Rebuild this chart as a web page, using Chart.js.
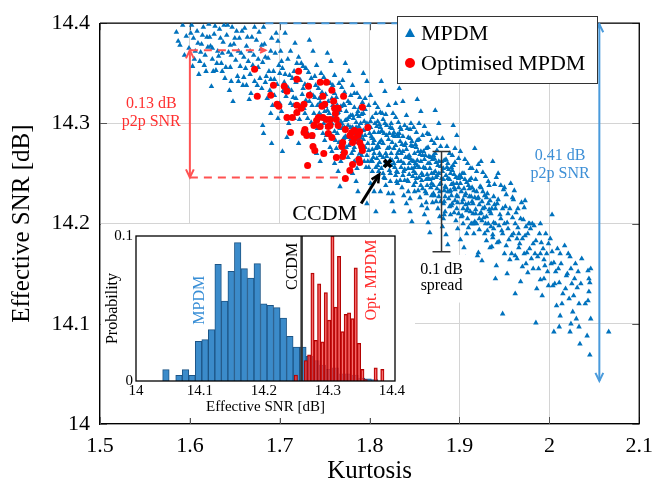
<!DOCTYPE html>
<html>
<head>
<meta charset="utf-8">
<script src="https://cdn.jsdelivr.net/npm/chart.js@4"></script>
<style>
html,body{margin:0;padding:0;background:#fff;}
#wrap{position:relative;width:662px;height:490px;}
#main{position:absolute;left:0;top:0;}
#inset{position:absolute;left:101px;top:224px;background:#fff;}
</style>
</head>
<body>
<div id="wrap">
<canvas id="main" width="662" height="490"></canvas>
<canvas id="inset" width="314" height="194"></canvas>
</div>
<script>
const SERIF = "'Liberation Serif','Times New Roman',serif";

// ---- main axes ticks ----
const xTickValues = [1.5, 1.6, 1.7, 1.8, 1.9, 2.0, 2.1];
const xTickLabels = ['1.5', '1.6', '1.7', '1.8', '1.9', '2', '2.1'];
const yTickValues = [14, 14.1, 14.2, 14.3, 14.4];
const yTickLabels = ['14', '14.1', '14.2', '14.3', '14.4'];

// ---- MPDM scatter: [kurtosis, effective SNR] ----
const mpdmPoints = [
[1.585,14.391],[1.596,14.387],[1.599,14.375],[1.592,14.398],[1.589,14.378],
[1.602,14.398],[1.604,14.385],[1.606,14.372],[1.608,14.392],[1.611,14.362],[1.613,14.379],[1.615,14.396],[1.617,14.368],[1.619,14.386],[1.603,14.357],[1.61,14.349],[1.618,14.352],
[1.621,14.399],[1.623,14.377],[1.625,14.364],[1.627,14.389],[1.629,14.353],[1.631,14.372],[1.633,14.394],[1.635,14.36],[1.637,14.381],[1.639,14.345],[1.624,14.337],[1.632,14.367],[1.638,14.398],
[1.641,14.388],[1.643,14.371],[1.645,14.356],[1.647,14.396],[1.649,14.379],[1.651,14.363],[1.653,14.347],[1.655,14.385],[1.657,14.37],[1.659,14.338],[1.644,14.333],[1.652,14.392],[1.656,14.357],[1.648,14.322],
[1.661,14.395],[1.663,14.377],[1.665,14.362],[1.667,14.349],[1.669,14.386],[1.671,14.368],[1.673,14.354],[1.675,14.338],[1.677,14.391],[1.679,14.374],[1.662,14.355],[1.668,14.33],[1.674,14.383],[1.678,14.345],[1.666,14.324],
[1.681,14.361],[1.683,14.379],[1.685,14.347],[1.687,14.365],[1.689,14.333],[1.691,14.385],[1.693,14.352],[1.695,14.37],[1.697,14.339],[1.699,14.358],[1.682,14.396],[1.686,14.325],[1.692,14.318],[1.696,14.39],[1.684,14.341],[1.694,14.328],[1.681,14.298],[1.682,14.29],[1.691,14.28],[1.698,14.305],
[1.701,14.372],[1.703,14.355],[1.705,14.341],[1.707,14.327],[1.709,14.364],[1.711,14.348],[1.713,14.333],[1.715,14.318],[1.717,14.38],[1.719,14.36],[1.702,14.312],[1.706,14.39],[1.71,14.3],[1.714,14.345],[1.718,14.325],[1.704,14.333],[1.712,14.372],[1.716,14.305],[1.708,14.286],[1.703,14.272],
[1.721,14.366],[1.723,14.343],[1.725,14.329],[1.727,14.315],[1.729,14.355],[1.731,14.338],[1.733,14.322],[1.735,14.301],[1.737,14.372],[1.739,14.347],[1.722,14.304],[1.726,14.357],[1.73,14.292],[1.734,14.33],[1.738,14.31],[1.724,14.318],[1.732,14.351],[1.736,14.286],[1.728,14.339],[1.721,14.28],[1.739,14.326],[1.733,14.383],
[1.741,14.358],[1.743,14.335],[1.745,14.321],[1.747,14.305],[1.749,14.346],[1.751,14.329],[1.753,14.313],[1.755,14.297],[1.757,14.362],[1.759,14.338],[1.742,14.295],[1.746,14.35],[1.75,14.283],[1.754,14.322],[1.758,14.3],[1.744,14.31],[1.752,14.341],[1.756,14.276],[1.748,14.327],[1.741,14.27],[1.759,14.318],[1.753,14.37],[1.745,14.262],[1.757,14.289],
[1.742,14.318],[1.746,14.308],[1.749,14.3],[1.752,14.288],[1.755,14.31],[1.758,14.325],[1.744,14.325],[1.751,14.317],
[1.761,14.348],[1.763,14.326],[1.765,14.311],[1.767,14.295],[1.769,14.336],[1.771,14.319],[1.773,14.303],[1.775,14.286],[1.777,14.352],[1.779,14.328],[1.762,14.283],[1.766,14.34],[1.77,14.272],[1.774,14.312],[1.778,14.29],[1.764,14.3],[1.772,14.331],[1.776,14.266],[1.768,14.317],[1.761,14.26],[1.779,14.308],[1.773,14.36],[1.765,14.252],[1.777,14.278],[1.77,14.296],[1.767,14.237],
[1.762,14.305],[1.764,14.29],[1.767,14.313],[1.769,14.281],[1.772,14.296],[1.775,14.304],[1.778,14.32],[1.771,14.285],[1.763,14.275],[1.776,14.298],
[1.781,14.338],[1.783,14.316],[1.785,14.301],[1.787,14.285],[1.789,14.326],[1.791,14.309],[1.793,14.293],[1.795,14.276],[1.797,14.342],[1.799,14.318],[1.782,14.273],[1.786,14.33],[1.79,14.262],[1.794,14.302],[1.798,14.28],[1.784,14.29],[1.792,14.321],[1.796,14.256],[1.788,14.307],[1.781,14.25],[1.799,14.298],[1.793,14.35],[1.785,14.242],[1.797,14.268],[1.79,14.286],[1.787,14.232],[1.795,14.314],[1.783,14.262],[1.797,14.22],
[1.781,14.296],[1.784,14.281],[1.786,14.309],[1.789,14.27],[1.791,14.288],[1.794,14.262],[1.796,14.294],[1.799,14.273],[1.782,14.305],[1.788,14.297],[1.792,14.278],
[1.801,14.328],[1.803,14.306],[1.805,14.291],[1.807,14.275],[1.809,14.316],[1.811,14.299],[1.813,14.283],[1.815,14.266],[1.817,14.332],[1.818,14.309],[1.802,14.263],[1.806,14.32],[1.81,14.252],[1.814,14.292],[1.818,14.27],[1.804,14.28],[1.812,14.311],[1.816,14.246],[1.808,14.297],[1.801,14.24],[1.819,14.288],[1.813,14.342],[1.805,14.232],[1.817,14.258],[1.81,14.276],[1.807,14.212],[1.815,14.304],[1.803,14.252],[1.818,14.238],[1.811,14.261],
[1.802,14.287],[1.804,14.266],[1.806,14.3],[1.809,14.258],[1.811,14.281],[1.813,14.255],[1.816,14.29],[1.818,14.262],[1.803,14.274],[1.808,14.265],[1.812,14.296],[1.82,14.275],
[1.821,14.318],[1.823,14.296],[1.825,14.281],[1.827,14.291],[1.829,14.306],[1.831,14.289],[1.833,14.273],[1.835,14.256],[1.837,14.322],[1.839,14.298],[1.822,14.253],[1.826,14.31],[1.83,14.242],[1.834,14.282],[1.838,14.26],[1.824,14.27],[1.832,14.301],[1.836,14.236],[1.828,14.287],[1.821,14.23],[1.839,14.278],[1.833,14.335],[1.825,14.222],[1.837,14.248],[1.83,14.266],[1.827,14.212],[1.835,14.294],[1.823,14.242],[1.838,14.228],[1.831,14.251],
[1.822,14.276],[1.824,14.258],[1.826,14.288],[1.829,14.248],[1.831,14.27],[1.834,14.243],[1.836,14.279],[1.838,14.252],[1.823,14.264],[1.828,14.256],[1.832,14.287],[1.84,14.266],
[1.841,14.308],[1.843,14.286],[1.845,14.294],[1.847,14.255],[1.849,14.296],[1.851,14.279],[1.853,14.263],[1.855,14.246],[1.857,14.312],[1.859,14.288],[1.842,14.243],[1.846,14.3],[1.85,14.232],[1.854,14.272],[1.858,14.25],[1.844,14.26],[1.852,14.291],[1.856,14.226],[1.848,14.277],[1.841,14.22],[1.859,14.268],[1.853,14.324],[1.845,14.212],[1.857,14.238],[1.85,14.256],[1.847,14.202],[1.855,14.284],[1.843,14.232],[1.858,14.218],[1.851,14.241],
[1.842,14.266],[1.844,14.249],[1.846,14.278],[1.849,14.238],[1.851,14.26],[1.854,14.233],[1.856,14.269],[1.858,14.243],[1.843,14.255],[1.848,14.247],[1.852,14.276],[1.86,14.256],
[1.861,14.297],[1.863,14.275],[1.865,14.26],[1.867,14.244],[1.869,14.283],[1.871,14.268],[1.873,14.252],[1.875,14.235],[1.877,14.3],[1.879,14.277],[1.862,14.232],[1.866,14.289],[1.87,14.221],[1.874,14.261],[1.878,14.239],[1.864,14.249],[1.872,14.28],[1.876,14.215],[1.868,14.266],[1.861,14.209],[1.879,14.257],[1.873,14.313],[1.865,14.201],[1.877,14.227],[1.87,14.245],[1.867,14.191],[1.875,14.273],[1.863,14.221],[1.878,14.207],[1.871,14.23],
[1.862,14.255],[1.864,14.238],[1.866,14.267],[1.869,14.228],[1.871,14.25],[1.874,14.222],[1.876,14.258],[1.878,14.232],[1.863,14.244],[1.868,14.236],[1.872,14.265],[1.88,14.245],
[1.881,14.285],[1.883,14.263],[1.885,14.248],[1.887,14.232],[1.889,14.27],[1.891,14.256],[1.893,14.24],[1.895,14.223],[1.897,14.288],[1.899,14.265],[1.882,14.22],[1.886,14.277],[1.89,14.209],[1.894,14.249],[1.898,14.227],[1.884,14.237],[1.892,14.268],[1.896,14.203],[1.888,14.254],[1.881,14.197],[1.899,14.245],[1.893,14.298],[1.885,14.189],[1.897,14.215],[1.89,14.233],[1.887,14.179],[1.895,14.261],[1.883,14.209],[1.898,14.195],[1.891,14.218],
[1.882,14.244],[1.884,14.227],[1.886,14.256],[1.889,14.217],[1.891,14.239],[1.894,14.211],[1.896,14.246],[1.898,14.221],[1.883,14.233],[1.888,14.225],[1.892,14.253],
[1.901,14.272],[1.903,14.25],[1.905,14.235],[1.907,14.219],[1.909,14.26],[1.911,14.243],[1.913,14.227],[1.915,14.21],[1.917,14.275],[1.919,14.252],[1.902,14.207],[1.906,14.264],[1.91,14.196],[1.914,14.236],[1.918,14.214],[1.904,14.224],[1.912,14.255],[1.916,14.19],[1.908,14.241],[1.901,14.184],[1.919,14.232],[1.905,14.176],[1.917,14.202],[1.91,14.22],[1.907,14.166],[1.913,14.2],[1.914,14.255],
[1.902,14.232],[1.904,14.215],[1.906,14.244],[1.909,14.205],[1.911,14.227],[1.914,14.2],[1.916,14.233],[1.918,14.21],[1.903,14.221],[1.908,14.213],
[1.921,14.259],[1.923,14.237],[1.925,14.222],[1.927,14.206],[1.929,14.247],[1.931,14.23],[1.933,14.214],[1.935,14.197],[1.937,14.262],[1.939,14.239],[1.922,14.194],[1.926,14.251],[1.93,14.183],[1.934,14.223],[1.938,14.201],[1.924,14.211],[1.932,14.242],[1.936,14.177],[1.928,14.228],[1.921,14.171],[1.939,14.219],[1.925,14.163],[1.937,14.189],[1.93,14.207],[1.924,14.262],[1.933,14.238],
[1.922,14.219],[1.925,14.203],[1.928,14.216],[1.931,14.193],[1.934,14.212],[1.937,14.186],
[1.941,14.246],[1.943,14.224],[1.945,14.209],[1.947,14.193],[1.949,14.234],[1.951,14.217],[1.953,14.201],[1.955,14.184],[1.957,14.24],[1.959,14.226],[1.942,14.181],[1.946,14.238],[1.95,14.17],[1.954,14.21],[1.958,14.188],[1.944,14.198],[1.952,14.229],[1.956,14.164],[1.948,14.215],[1.941,14.158],[1.959,14.206],[1.948,14.11],[1.953,14.15],[1.95,14.236],
[1.961,14.233],[1.963,14.211],[1.965,14.196],[1.967,14.18],[1.969,14.221],[1.971,14.204],[1.973,14.188],[1.975,14.171],[1.977,14.2],[1.979,14.195],[1.962,14.168],[1.966,14.19],[1.97,14.157],[1.974,14.197],[1.978,14.175],[1.964,14.185],[1.972,14.216],[1.976,14.151],[1.968,14.142],[1.973,14.223],[1.96,14.224],
[1.981,14.2],[1.983,14.198],[1.985,14.183],[1.987,14.167],[1.989,14.19],[1.991,14.181],[1.993,14.175],[1.995,14.158],[1.997,14.17],[1.999,14.18],[1.982,14.155],[1.986,14.135],[1.99,14.144],[1.994,14.164],[1.998,14.152],[1.985,14.101],[1.992,14.128],[2.003,14.209],
[2.001,14.185],[2.003,14.172],[2.005,14.161],[2.007,14.152],[2.009,14.175],[2.011,14.141],[2.013,14.16],[2.015,14.13],[2.017,14.178],[2.019,14.148],[2.004,14.138],[2.005,14.092],[2.011,14.097],[2.008,14.118],
[2.021,14.17],[2.023,14.167],[2.024,14.155],[2.025,14.14],[2.027,14.128],[2.029,14.16],[2.032,14.152],[2.033,14.12],[2.034,14.08],[2.023,14.092],[2.026,14.112],[2.031,14.136],
[2.043,14.153],[2.043,14.123],[2.045,14.141],[2.045,14.069],[2.046,14.105],[2.044,14.132],[2.066,14.092],[2.042,14.088],
[1.587,14.382],[1.594,14.368],[1.601,14.39],[1.605,14.364],[1.609,14.38],[1.612,14.371],[1.614,14.388],[1.616,14.358],[1.62,14.376],[1.622,14.386],[1.626,14.352],[1.628,14.397],[1.63,14.36],[1.634,14.385],[1.636,14.37],[1.64,14.356],[1.642,14.398],[1.646,14.368],[1.65,14.385],[1.654,14.372],[1.658,14.392],[1.66,14.346],[1.664,14.386],[1.667,14.372],[1.67,14.358],[1.672,14.396],[1.676,14.364],[1.68,14.378],[1.684,14.366],[1.688,14.352],[1.69,14.372],[1.694,14.344],[1.698,14.382],[1.7,14.35],[1.68,14.335],[1.672,14.342],[1.663,14.338],[1.654,14.342],[1.646,14.342],[1.636,14.352],[1.69,14.31],[1.7,14.32],
[1.702,14.362],[1.706,14.349],[1.709,14.336],[1.712,14.32],[1.716,14.352],[1.718,14.341],[1.72,14.31],[1.724,14.36],[1.726,14.335],[1.729,14.323],[1.731,14.305],[1.735,14.345],[1.737,14.328],[1.74,14.338],[1.743,14.297],[1.747,14.331],[1.75,14.312],[1.753,14.296],[1.756,14.34],[1.759,14.306],[1.761,14.33],[1.764,14.318],[1.768,14.302],[1.77,14.343],[1.773,14.287],[1.776,14.322],[1.779,14.296],[1.78,14.27],[1.783,14.33],[1.785,14.29],[1.787,14.312],[1.79,14.3],[1.793,14.284],[1.795,14.325],[1.798,14.262],[1.8,14.29],[1.768,14.262],[1.758,14.272],[1.786,14.255],
[1.801,14.302],[1.803,14.285],[1.805,14.27],[1.807,14.31],[1.809,14.278],[1.81,14.291],[1.812,14.268],[1.814,14.31],[1.815,14.28],[1.817,14.245],[1.819,14.298],[1.82,14.26],[1.822,14.29],[1.824,14.3],[1.825,14.263],[1.827,14.275],[1.829,14.32],[1.83,14.252],[1.832,14.262],[1.834,14.296],[1.835,14.27],[1.837,14.287],[1.839,14.243],[1.84,14.28],[1.842,14.295],[1.844,14.268],[1.845,14.285],[1.847,14.263],[1.849,14.252],[1.85,14.27],[1.852,14.245],[1.853,14.258],[1.855,14.3],[1.857,14.262],[1.859,14.235],[1.86,14.272],[1.862,14.268],[1.864,14.29],[1.865,14.245],[1.867,14.255],[1.869,14.24],[1.87,14.264],[1.872,14.228],[1.874,14.246],[1.875,14.285],[1.877,14.25],[1.879,14.222],[1.88,14.262],[1.882,14.255],[1.884,14.212],[1.885,14.264],[1.887,14.245],[1.889,14.232],[1.89,14.25],[1.892,14.22],[1.894,14.236],[1.895,14.275],[1.897,14.24],[1.899,14.21],[1.9,14.248],[1.812,14.232],[1.826,14.23],[1.845,14.225],[1.864,14.215],[1.882,14.205],
[1.902,14.246],[1.904,14.2],[1.906,14.228],[1.908,14.19],[1.91,14.238],[1.912,14.212],[1.914,14.222],[1.916,14.2],[1.918,14.244],[1.92,14.225],[1.922,14.205],[1.924,14.236],[1.926,14.215],[1.928,14.19],[1.93,14.226],[1.932,14.2],[1.934,14.176],[1.936,14.215],[1.938,14.227],[1.94,14.2],[1.942,14.22],[1.944,14.182],[1.946,14.205],[1.948,14.19],[1.95,14.2],[1.952,14.178],[1.954,14.195],[1.956,14.215],[1.958,14.17],[1.96,14.19],[1.962,14.2],[1.964,14.165],[1.966,14.176],[1.968,14.205],[1.97,14.185],[1.972,14.17],[1.974,14.16],[1.976,14.19],[1.978,14.2],[1.98,14.165],[1.982,14.18],[1.984,14.17],[1.988,14.155],[1.99,14.17],[1.994,14.145],[1.996,14.19],[1.999,14.138],[1.92,14.168],[1.94,14.145],[1.962,14.13],[1.943,14.25],[1.965,14.215],[1.99,14.2],
[2.002,14.16],[2.006,14.14],[2.01,14.155],[2.012,14.17],[2.014,14.12],[2.018,14.135],[2.02,14.15],[2.022,14.125],[2.028,14.145],[2.03,14.105],[2.035,14.14],[2.036,14.165],[2.04,14.12],[2.044,14.145],[2.046,14.155],[2.012,14.108],[2.024,14.1],[2.033,14.097],
[1.761,14.292],[1.764,14.31],[1.766,14.281],[1.769,14.3],[1.772,14.318],[1.774,14.276],[1.777,14.306],[1.779,14.284],
[1.781,14.308],[1.783,14.276],[1.785,14.296],[1.787,14.266],[1.789,14.316],[1.791,14.268],[1.793,14.31],[1.795,14.288],[1.797,14.3],[1.799,14.256],
[1.801,14.296],[1.803,14.262],[1.805,14.283],[1.807,14.256],[1.809,14.302],[1.811,14.27],[1.813,14.292],[1.815,14.25],[1.817,14.3],[1.819,14.267],
[1.821,14.284],[1.823,14.25],[1.825,14.295],[1.827,14.26],[1.829,14.278],[1.831,14.24],[1.833,14.29],[1.835,14.262],[1.837,14.272],[1.839,14.254],
[1.841,14.274],[1.843,14.242],[1.845,14.265],[1.847,14.282],[1.849,14.262],[1.851,14.25],[1.853,14.283],[1.855,14.256],[1.857,14.272],[1.859,14.248],
[1.861,14.264],[1.863,14.23],[1.865,14.276],[1.867,14.26],[1.869,14.25],[1.871,14.238],[1.873,14.27],[1.875,14.248],[1.877,14.262],[1.879,14.24],
[1.881,14.252],[1.883,14.222],[1.885,14.236],[1.887,14.26],[1.889,14.244],[1.891,14.228],[1.893,14.258],[1.895,14.234],[1.897,14.228],[1.899,14.236],
[1.901,14.24],[1.903,14.208],[1.905,14.25],[1.907,14.23],[1.909,14.215],[1.911,14.235],[1.913,14.245],[1.915,14.22],[1.917,14.226],[1.919,14.2],
[1.921,14.226],[1.923,14.21],[1.926,14.232],[1.929,14.2],[1.932,14.22],[1.935,14.21],[1.938,14.195],[1.94,14.215],
[1.625,14.375],[1.645,14.378],[1.66,14.366],[1.676,14.356],[1.69,14.344],[1.705,14.332],[1.715,14.326],[1.728,14.31],[1.736,14.318],[1.748,14.29]
];

// ---- Optimised MPDM scatter ----
const optPoints = [
[1.672,14.354],[1.721,14.352],[1.719,14.344],[1.693,14.338],[1.705,14.337],[1.708,14.332],[1.675,14.327],[1.69,14.328],
[1.732,14.337],[1.745,14.341],[1.752,14.341],[1.758,14.333],[1.733,14.328],[1.748,14.327],[1.771,14.327],[1.76,14.322],
[1.697,14.319],[1.699,14.317],[1.719,14.318],[1.727,14.319],[1.747,14.317],[1.75,14.319],[1.761,14.315],[1.765,14.315],
[1.792,14.316],[1.724,14.315],[1.719,14.311],[1.762,14.31],[1.708,14.306],[1.714,14.306],[1.743,14.306],[1.741,14.303],
[1.748,14.306],[1.752,14.304],[1.756,14.304],[1.763,14.304],[1.712,14.291],[1.728,14.294],[1.727,14.291],[1.738,14.298],
[1.745,14.297],[1.754,14.297],[1.756,14.298],[1.765,14.298],[1.773,14.294],[1.78,14.291],[1.783,14.293],[1.789,14.292],
[1.778,14.288],[1.787,14.288],[1.73,14.288],[1.736,14.288],[1.754,14.29],[1.758,14.286],[1.783,14.285],[1.77,14.281],
[1.781,14.281],[1.789,14.281],[1.737,14.277],[1.739,14.273],[1.769,14.277],[1.791,14.277],[1.749,14.27],[1.763,14.266],
[1.77,14.267],[1.772,14.271],[1.788,14.264],[1.789,14.261],[1.781,14.259],[1.731,14.258],[1.778,14.253],[1.773,14.245],
[1.798,14.296],[1.792,14.273]
];

// ---- CCDM reference point ----
const ccdmPoint = [[1.820, 14.260]];

// ---- annotations (data coordinates) ----
const redSpanX = 1.6, redTopY = 14.373, redBottomY = 14.246, redTopEndX = 1.684, redBottomEndX = 1.767;
const blueSpanX = 2.0556, blueTopY = 14.4, blueBottomY = 14.043, blueDashStartX = 1.684;
const spreadX = 1.880, spreadTop = 14.272, spreadBottom = 14.172;
const ccdmArrowFrom = [1.7906, 14.220], ccdmArrowTo = [1.8106, 14.249];

// ---- inset histograms ----
const mpdmBins = [14.0468,14.0570,14.0672,14.0774,14.0876,14.0978,14.1080,14.1182,14.1284,14.1386,14.1488,14.1590,14.1692,14.1794,14.1896,14.1998,14.2100,14.2202,14.2304,14.2406,14.2508,14.2610,14.2712,14.2814,14.2916,14.3018,14.3120,14.3222,14.3324,14.3426,14.3528,14.3630,14.3732];
const mpdmProb = [0.0078,0,0.0039,0.0078,0.0039,0.0274,0.0285,0.0354,0.0805,0.0552,0.0756,0.0954,0.0775,0.071,0.081,0.0533,0.0522,0.0506,0.0434,0.0308,0.0234,0.0234,0.017,0.014,0.011,0.008,0.009,0.005,0.005,0.004,0.002,0.0015,0.001];
const optBins = [14.2500,14.2552,14.2604,14.2656,14.2708,14.2760,14.2812,14.2864,14.2916,14.2968,14.3020,14.3072,14.3124,14.3176,14.3228,14.3280,14.3332,14.3384,14.3436,14.3488,14.3540,14.3592,14.3644,14.3696,14.3748,14.3800,14.3852];
const optProb = [0.004,0,0,0.014,0.018,0.0745,0.028,0.067,0.027,0.061,0.042,0.1,0.051,0.086,0.034,0.046,0.047,0.043,0.078,0.026,0.008,0.001,0,0,0.009,0,0.008];
const insetXTickValues = [14, 14.1, 14.2, 14.3, 14.4];
const insetXTickLabels = ['14', '14.1', '14.2', '14.3', '14.4'];
const insetYTickValues = [0, 0.1];
const insetYTickLabels = ['0', '0.1'];
const ccdmSNR = 14.259;

const toXY = a => a.map(p => ({x: p[0], y: p[1]}));

function arrowHead(ctx, x, y, ang, size) {
  ctx.beginPath();
  ctx.moveTo(x - size * Math.cos(ang - 0.45), y - size * Math.sin(ang - 0.45));
  ctx.lineTo(x, y);
  ctx.lineTo(x - size * Math.cos(ang + 0.45), y - size * Math.sin(ang + 0.45));
  ctx.stroke();
}

const framePlugin = {
  id: 'frame',
  beforeDatasetsDraw(chart) {
    const {ctx, chartArea: a, scales: {x, y}} = chart;
    ctx.save();
    ctx.strokeStyle = '#555'; ctx.lineWidth = 1;
    xTickValues.forEach(v => {
      const p = Math.round(x.getPixelForValue(v)) + 0.5;
      ctx.beginPath(); ctx.moveTo(p, a.bottom); ctx.lineTo(p, a.bottom - 7); ctx.stroke();
      ctx.beginPath(); ctx.moveTo(p, a.top); ctx.lineTo(p, a.top + 7); ctx.stroke();
    });
    yTickValues.forEach(v => {
      const p = Math.round(y.getPixelForValue(v)) + 0.5;
      ctx.beginPath(); ctx.moveTo(a.left, p); ctx.lineTo(a.left + 7, p); ctx.stroke();
      ctx.beginPath(); ctx.moveTo(a.right, p); ctx.lineTo(a.right - 7, p); ctx.stroke();
    });
    ctx.strokeStyle = '#000'; ctx.lineWidth = 1.3;
    ctx.beginPath();
    ctx.moveTo(a.left, a.top); ctx.lineTo(a.right, a.top); ctx.lineTo(a.right, a.bottom);
    ctx.stroke();
    ctx.restore();
  }
};

const annotPlugin = {
  id: 'annot',
  afterDatasetsDraw(chart) {
    const {ctx, scales: {x, y}} = chart;
    const X = v => x.getPixelForValue(v), Y = v => y.getPixelForValue(v);
    ctx.save();
    // red p2p span
    const red = '#ff5252';
    ctx.strokeStyle = red; ctx.lineWidth = 2;
    ctx.setLineDash([8, 6]);
    ctx.beginPath(); ctx.moveTo(X(redSpanX), Y(redTopY)); ctx.lineTo(X(redTopEndX), Y(redTopY)); ctx.stroke();
    ctx.beginPath(); ctx.moveTo(X(redSpanX), Y(redBottomY)); ctx.lineTo(X(redBottomEndX), Y(redBottomY)); ctx.stroke();
    ctx.setLineDash([]);
    arrowHead(ctx, X(redTopEndX), Y(redTopY), 0, 6);
    ctx.beginPath(); ctx.moveTo(X(redSpanX), Y(redTopY)); ctx.lineTo(X(redSpanX), Y(redBottomY)); ctx.stroke();
    arrowHead(ctx, X(redSpanX), Y(redTopY), -Math.PI / 2, 9);
    arrowHead(ctx, X(redSpanX), Y(redBottomY), Math.PI / 2, 9);
    ctx.fillStyle = '#ff3030';
    ctx.font = '16px ' + SERIF; ctx.textAlign = 'center'; ctx.textBaseline = 'middle';
    ctx.fillText('0.13 dB', X(1.557), Y(14.3197));
    ctx.fillText('p2p SNR', X(1.557), Y(14.3013));
    // blue p2p span
    const blue = '#4a9bdc';
    ctx.strokeStyle = blue; ctx.lineWidth = 2;
    ctx.setLineDash([8, 6]);
    ctx.beginPath(); ctx.moveTo(X(blueDashStartX), Y(blueTopY)); ctx.lineTo(X(blueSpanX), Y(blueTopY)); ctx.stroke();
    ctx.setLineDash([]);
    ctx.beginPath(); ctx.moveTo(X(blueSpanX), Y(blueTopY)); ctx.lineTo(X(blueSpanX), Y(blueBottomY)); ctx.stroke();
    arrowHead(ctx, X(blueSpanX), Y(blueTopY) + 1, -Math.PI / 2, 9);
    arrowHead(ctx, X(blueSpanX), Y(blueBottomY), Math.PI / 2, 9);
    ctx.fillStyle = '#3d8fd6';
    ctx.fillText('0.41 dB', X(2.012), Y(14.2677));
    ctx.fillText('p2p SNR', X(2.012), Y(14.2493));
    // spread bar
    ctx.fillStyle = '#fff';
    ctx.fillRect(X(1.850), Y(14.1687), X(1.9145) - X(1.850), Y(14.1212) - Y(14.1687));
    ctx.strokeStyle = '#333'; ctx.lineWidth = 1.5;
    ctx.beginPath();
    ctx.moveTo(X(spreadX), Y(spreadTop)); ctx.lineTo(X(spreadX), Y(spreadBottom));
    ctx.moveTo(X(spreadX) - 9, Y(spreadTop)); ctx.lineTo(X(spreadX) + 9, Y(spreadTop));
    ctx.moveTo(X(spreadX) - 9, Y(spreadBottom)); ctx.lineTo(X(spreadX) + 9, Y(spreadBottom));
    ctx.stroke();
    ctx.fillStyle = '#000';
    ctx.fillText('0.1 dB', X(1.880), Y(14.154));
    ctx.fillText('spread', X(1.880), Y(14.138));
    // CCDM arrow
    ctx.strokeStyle = '#000'; ctx.lineWidth = 3;
    const fx = X(ccdmArrowFrom[0]), fy = Y(ccdmArrowFrom[1]), tx = X(ccdmArrowTo[0]), ty = Y(ccdmArrowTo[1]);
    ctx.beginPath(); ctx.moveTo(fx, fy); ctx.lineTo(tx, ty); ctx.stroke();
    ctx.lineWidth = 2.5;
    arrowHead(ctx, tx, ty, Math.atan2(ty - fy, tx - fx), 9);
    ctx.font = '22px ' + SERIF;
    ctx.fillText('CCDM', X(1.750), Y(14.209));
    // legend
    ctx.fillStyle = '#fff'; ctx.strokeStyle = '#333'; ctx.lineWidth = 1;
    ctx.fillRect(397, 16, 201, 68); ctx.strokeRect(397.5, 16.5, 200, 67);
    ctx.fillStyle = '#0072bd';
    ctx.beginPath(); ctx.moveTo(410, 28); ctx.lineTo(415, 37); ctx.lineTo(405, 37); ctx.closePath(); ctx.fill();
    ctx.fillStyle = '#ff0000';
    ctx.beginPath(); ctx.arc(410, 63, 5, 0, Math.PI * 2); ctx.fill();
    ctx.fillStyle = '#000'; ctx.textAlign = 'left';
    ctx.fillText('MPDM', 421, 34);
    ctx.fillText('Optimised MPDM', 421, 64);
    ctx.restore();
  }
};

new Chart(document.getElementById('main'), {
  type: 'scatter',
  data: {
    datasets: [
      {label: 'CCDM', data: toXY(ccdmPoint), pointStyle: 'crossRot', pointRadius: 5,
       pointBorderColor: '#000', pointBackgroundColor: '#000', pointBorderWidth: 3.5, order: 0},
      {label: 'Optimised MPDM', data: toXY(optPoints), pointStyle: 'circle', pointRadius: 3.5,
       pointBackgroundColor: '#ff0000', pointBorderColor: '#ff0000', pointBorderWidth: 0, order: 1},
      {label: 'MPDM', data: toXY(mpdmPoints), pointStyle: 'triangle', pointRadius: 3.2,
       pointBackgroundColor: '#0072bd', pointBorderColor: '#0072bd', pointBorderWidth: 0, order: 2}
    ]
  },
  options: {
    responsive: false, animation: false, devicePixelRatio: 1, events: [],
    layout: {padding: {top: 11, right: 15, left: 0, bottom: 0}},
    plugins: {legend: {display: false}, tooltip: {enabled: false}},
    scales: {
      x: {
        type: 'linear', min: 1.5, max: 2.1,
        afterBuildTicks: s => { s.ticks = xTickValues.map(v => ({value: v})); },
        afterFit: s => { s.height = 66; },
        ticks: {callback: (v, i) => xTickLabels[i], font: {family: SERIF, size: 22}, color: '#000', padding: 9, maxRotation: 0, autoSkip: false},
        grid: {color: '#d4d4d4', drawTicks: false},
        border: {color: '#000', width: 1.3},
        title: {display: true, text: 'Kurtosis', font: {family: SERIF, size: 25}, color: '#000', padding: {top: 0, bottom: 4}}
      },
      y: {
        type: 'linear', min: 14, max: 14.4,
        afterBuildTicks: s => { s.ticks = yTickValues.map(v => ({value: v})); },
        afterFit: s => { s.width = 100; },
        ticks: {callback: (v, i) => yTickLabels[i], font: {family: SERIF, size: 22}, color: '#000', padding: 10, autoSkip: false},
        grid: {color: '#d4d4d4', drawTicks: false},
        border: {color: '#000', width: 1.3},
        title: {display: true, text: 'Effective SNR [dB]', font: {family: SERIF, size: 25}, color: '#000', padding: {top: 7, bottom: 0}}
      }
    }
  },
  plugins: [framePlugin, annotPlugin]
});

const insetPlugin = {
  id: 'insetDeco',
  afterDatasetsDraw(chart) {
    const {ctx, chartArea: a, scales: {x, y}} = chart;
    ctx.save();
    ctx.strokeStyle = '#333'; ctx.lineWidth = 2.5;
    ctx.beginPath(); ctx.moveTo(x.getPixelForValue(ccdmSNR), y.getPixelForValue(0)); ctx.lineTo(x.getPixelForValue(ccdmSNR), y.getPixelForValue(0.1)); ctx.stroke();
    ctx.strokeStyle = '#000'; ctx.lineWidth = 1.3;
    ctx.strokeRect(a.left, a.top, a.right - a.left, a.bottom - a.top);
    ctx.font = '16px ' + SERIF; ctx.textAlign = 'center'; ctx.textBaseline = 'middle';
    const rot = (txt, vx, vy, col) => {
      ctx.save(); ctx.translate(x.getPixelForValue(vx), y.getPixelForValue(vy)); ctx.rotate(-Math.PI / 2);
      ctx.fillStyle = col; ctx.fillText(txt, 0, 0); ctx.restore();
    };
    rot('MPDM', 14.1, 0.0557, '#3a8fd6');
    rot('CCDM', 14.245, 0.079, '#000');
    rot('Opt. MPDM', 14.368, 0.0696, '#ff2a2a');
    ctx.restore();
  }
};

// pixel width of one unit of effective SNR in the inset plot area (259 px for 0.405 dB)
const insetPxPerUnit = 259 / 0.405;

new Chart(document.getElementById('inset'), {
  type: 'bar',
  data: {
    datasets: [
      {label: 'Opt. MPDM', data: optBins.map((b, i) => ({x: b, y: optProb[i]})), xAxisID: 'x2',
       backgroundColor: 'rgba(255,70,70,0.6)', borderColor: '#b00000', borderWidth: 1,
       grouped: false, barThickness: (optBins[1] - optBins[0]) * insetPxPerUnit, order: 0},
      {label: 'MPDM', data: mpdmBins.map((b, i) => ({x: b, y: mpdmProb[i]})), xAxisID: 'x',
       backgroundColor: '#3b8bca', borderColor: '#1d5586', borderWidth: 1,
       grouped: false, barThickness: (mpdmBins[1] - mpdmBins[0]) * insetPxPerUnit, order: 1}
    ]
  },
  options: {
    responsive: false, animation: false, devicePixelRatio: 1, events: [],
    layout: {padding: {top: 11, right: 20, left: 0, bottom: 0}},
    plugins: {legend: {display: false}, tooltip: {enabled: false}},
    scales: {
      x: {
        type: 'linear', min: 14, max: 14.405, offset: false,
        afterBuildTicks: s => { s.ticks = insetXTickValues.map(v => ({value: v})); },
        afterFit: s => { s.height = 37; },
        ticks: {callback: (v, i) => insetXTickLabels[i], font: {family: SERIF, size: 15}, color: '#000', padding: 1, maxRotation: 0, autoSkip: false},
        grid: {display: false, drawTicks: false, offset: false},
        border: {display: false},
        title: {display: true, text: 'Effective SNR [dB]', font: {family: SERIF, size: 15}, color: '#000', padding: {top: 0, bottom: 2}}
      },
      x2: {type: 'linear', axis: 'x', min: 14, max: 14.405, offset: false, display: false, grid: {offset: false, drawTicks: false}},
      y: {
        min: 0, max: 0.1,
        afterBuildTicks: s => { s.ticks = insetYTickValues.map(v => ({value: v})); },
        afterFit: s => { s.width = 35; },
        ticks: {callback: (v, i) => insetYTickLabels[i], font: {family: SERIF, size: 15}, color: '#000', padding: 3, autoSkip: false},
        grid: {display: false, drawTicks: false},
        border: {display: false},
        title: {display: true, text: 'Probability', font: {family: SERIF, size: 16}, color: '#000', padding: {top: 2, bottom: 0}}
      }
    }
  },
  plugins: [insetPlugin]
});
</script>
</body>
</html>
